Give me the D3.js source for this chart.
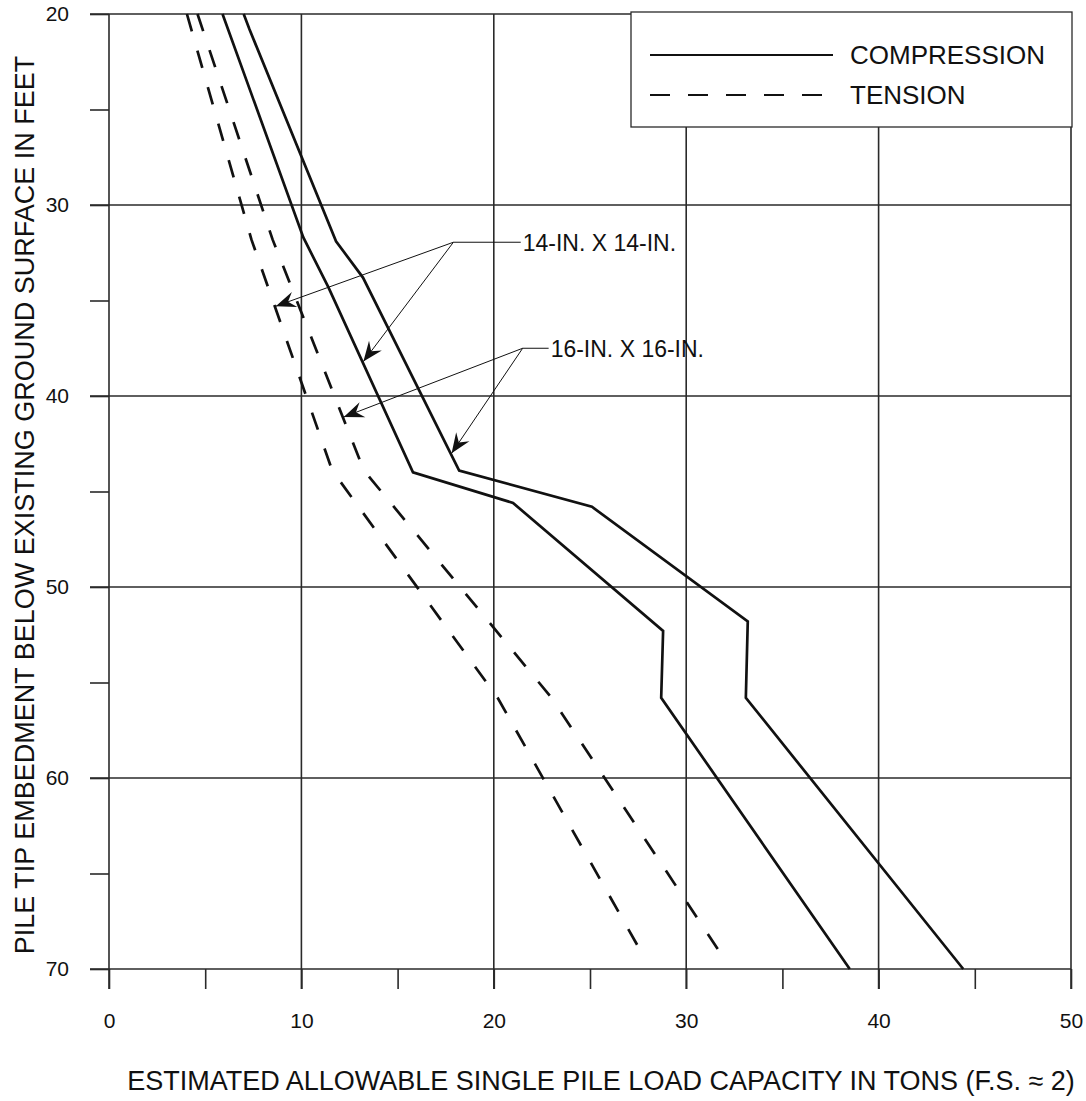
<!DOCTYPE html>
<html>
<head>
<meta charset="utf-8">
<script src="https://cdn.jsdelivr.net/npm/d3@7"></script>
<style>
  html, body { margin: 0; padding: 0; background: #fff; }
  svg { display: block; font-family: 'Liberation Sans', Arial, sans-serif; }
</style>
</head>
<body>
<div id="chart"></div>
<script>
// break points of each curve: depth in feet, allowable load in tons
const comp14Depth = [20, 31.7, 34.3, 44.0, 45.6, 52.3, 55.8, 70];
const comp14Load  = [5.9, 10.1, 11.4, 15.8, 21.0, 28.8, 28.7, 38.5];
const comp16Depth = [20, 20.8, 31.9, 33.8, 43.9, 45.8, 51.8, 55.8, 70];
const comp16Load  = [7.0, 7.3, 11.8, 13.2, 18.2, 25.1, 33.2, 33.1, 44.4];
const tens14Depth = [20, 31.8, 43.9, 55.8, 69.0];
const tens14Load  = [4.05, 7.4, 11.6, 20.2, 27.6];
const tens16Depth = [20, 31.8, 43.9, 55.8, 69.2];
const tens16Load  = [4.6, 8.5, 13.25, 23.0, 31.8];

const xTicks = [0, 10, 20, 30, 40, 50];
const yTicks = [20, 30, 40, 50, 60, 70];
const legendLabels = ['COMPRESSION', 'TENSION'];
const pileLabels = ['14-IN. X 14-IN.', '16-IN. X 16-IN.'];
// depths where the leader arrows hit the tension / compression curve
const arrowDepths = [[35.3, 38.2], [41.1, 43.0]];

const d3 = window.d3;
const W = 1086, H = 1101;
const INK = '#111';
const GRID = '#2a2a2a';

const toPts = (depth, load) => depth.map((d, i) => ({ depth: d, load: load[i] }));
const curves = [
  { name: '14c', pts: toPts(comp14Depth, comp14Load), dash: null },
  { name: '16c', pts: toPts(comp16Depth, comp16Load), dash: null },
  { name: '14t', pts: toPts(tens14Depth, tens14Load), dash: '18,20' },
  { name: '16t', pts: toPts(tens16Depth, tens16Load), dash: '18,20' }
];

const x = d3.scaleLinear().domain([0, 50]).range([109, 1071]);
const y = d3.scaleLinear().domain([20, 70]).range([14, 969]);

const svg = d3.select('#chart').append('svg')
  .attr('width', W).attr('height', H);

// grid
svg.append('g').selectAll('line')
  .data(yTicks).enter().append('line')
  .attr('x1', x(0) - 19).attr('x2', x(50))
  .attr('y1', d => y(d)).attr('y2', d => y(d))
  .attr('stroke', GRID).attr('stroke-width', 1.6);

svg.append('g').selectAll('line')
  .data(xTicks).enter().append('line')
  .attr('x1', d => x(d)).attr('x2', d => x(d))
  .attr('y1', y(20)).attr('y2', y(70) + 20)
  .attr('stroke', GRID).attr('stroke-width', 1.6);

// axes (minor ticks + labels)
const xAxis = svg.append('g').attr('transform', `translate(0,${y(70)})`)
  .call(d3.axisBottom(x).tickValues(d3.range(0, 51, 5)).tickSize(20).tickPadding(24)
    .tickFormat(d => d % 10 === 0 ? d : ''));
xAxis.select('.domain').remove();
xAxis.selectAll('line').attr('stroke', GRID).attr('stroke-width', 1.6);
xAxis.selectAll('text').attr('fill', INK).attr('font-size', '21px')
  .attr('font-family', "'Liberation Sans', Arial, sans-serif");

const yAxis = svg.append('g').attr('transform', `translate(${x(0)},0)`)
  .call(d3.axisLeft(y).tickValues(d3.range(20, 71, 5)).tickSize(19).tickPadding(21)
    .tickFormat(d => d % 10 === 0 ? d : ''));
yAxis.select('.domain').remove();
yAxis.selectAll('line').attr('stroke', GRID).attr('stroke-width', 1.6);
yAxis.selectAll('text').attr('fill', INK).attr('font-size', '21px')
  .attr('font-family', "'Liberation Sans', Arial, sans-serif");

// curves
const line = d3.line().x(d => x(d.load)).y(d => y(d.depth));
svg.append('g').selectAll('path')
  .data(curves).enter().append('path')
  .attr('d', d => line(d.pts))
  .attr('fill', 'none')
  .attr('stroke', INK)
  .attr('stroke-width', 2.7)
  .attr('stroke-linejoin', 'miter')
  .attr('stroke-dasharray', d => d.dash);

// legend
const lg = svg.append('g');
lg.append('rect')
  .attr('x', 631).attr('y', 12).attr('width', 441).attr('height', 115)
  .attr('fill', '#fff').attr('stroke', GRID).attr('stroke-width', 1.3);
legendLabels.forEach((lab, i) => {
  const ly = 55 + i * 40;
  lg.append('line')
    .attr('x1', 650).attr('x2', i === 0 ? 833 : 823)
    .attr('y1', ly).attr('y2', ly)
    .attr('stroke', INK).attr('stroke-width', 2)
    .attr('stroke-dasharray', i === 0 ? null : '20,18');
  lg.append('text')
    .attr('x', 850).attr('y', ly).attr('dy', '0.36em')
    .attr('font-size', '26px').attr('fill', INK)
    .text(lab);
});

// leader arrows
const defs = svg.append('defs');
defs.append('marker')
  .attr('id', 'arrow').attr('markerUnits', 'userSpaceOnUse')
  .attr('viewBox', '-22 -10 24 20').attr('refX', 0).attr('refY', 0)
  .attr('markerWidth', 24).attr('markerHeight', 20)
  .attr('orient', 'auto')
  .append('path').attr('d', 'M0,0 L-20,-8 L-13,0 L-20,8 Z').attr('fill', INK);

const loadAt = (pts, depth) => {
  const i = d3.bisector(d => d.depth).right(pts, depth);
  const a = pts[i - 1], b = pts[i];
  return a.load + (b.load - a.load) * (depth - a.depth) / (b.depth - a.depth);
};

const notes = [
  { label: pileLabels[0], vx: 17.9, vy: 31.95, hx: 21.4, tens: curves[2], comp: curves[0], depths: arrowDepths[0] },
  { label: pileLabels[1], vx: 21.5, vy: 37.5, hx: 22.85, tens: curves[3], comp: curves[1], depths: arrowDepths[1] }
];

const ng = svg.append('g');
notes.forEach(n => {
  const vx = x(n.vx), vy = y(n.vy);
  ng.append('line')
    .attr('x1', vx).attr('y1', vy).attr('x2', x(n.hx)).attr('y2', vy)
    .attr('stroke', INK).attr('stroke-width', 1);
  [[n.tens, n.depths[0]], [n.comp, n.depths[1]]].forEach(([c, dep]) => {
    ng.append('line')
      .attr('x1', vx).attr('y1', vy)
      .attr('x2', x(loadAt(c.pts, dep)) + 1).attr('y2', y(dep))
      .attr('stroke', INK).attr('stroke-width', 1)
      .attr('marker-end', 'url(#arrow)');
  });
  ng.append('text')
    .attr('x', x(n.hx) + 2).attr('y', vy).attr('dy', '0.36em')
    .attr('font-size', '23px').attr('fill', INK)
    .text(n.label);
});

// axis titles
svg.append('text')
  .attr('x', 601).attr('y', 1080).attr('dy', '0.36em')
  .attr('text-anchor', 'middle').attr('font-size', '27px').attr('fill', INK)
  .text('ESTIMATED ALLOWABLE SINGLE PILE LOAD CAPACITY IN TONS (F.S. \u2248 2)');

svg.append('text')
  .attr('transform', `translate(24,${505}) rotate(-90)`)
  .attr('dy', '0.36em')
  .attr('text-anchor', 'middle').attr('font-size', '27px').attr('fill', INK)
  .text('PILE TIP EMBEDMENT BELOW EXISTING GROUND SURFACE IN FEET');
</script>
</body>
</html>
